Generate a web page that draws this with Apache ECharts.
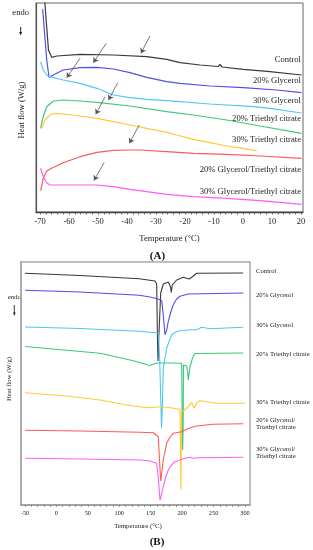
<!DOCTYPE html>
<html>
<head>
<meta charset="utf-8">
<script src="https://cdn.jsdelivr.net/npm/echarts@6/dist/echarts.min.js"></script>
<style>
html,body{margin:0;padding:0;background:#fff;}
#chart{width:313px;height:550px;}
</style>
</head>
<body>
<div id="chart"></div>
<script>
// ---------- DATA ----------
// Panel A: temperature (°C) vs heat flow (arbitrary offset units)
var namesA = ['Control', '20% Glycerol', '30% Glycerol', '20% Triethyl citrate', '30% Triethyl citrate', '20% Glycerol/Triethyl citrate', '30% Glycerol/Triethyl citrate'];
var controlA = [[-68.5,215],[-67.1,162],[-66.0,154.7],[-64.2,156],[-56.2,157.7],[-44.7,157],[-33.2,155.3],[-26.3,152.7],[-21.7,149.3],[-14.8,147],[-8.6,145.5],[-7.9,147.5],[-7.2,145],[0.1,142.7],[9.3,140.3],[20.2,137]];
var gly20A = [[-69.1,202.7],[-67.7,152],[-66.9,134.7],[-64.8,138],[-62.0,142],[-56.2,144.3],[-50.4,144.7],[-44.7,143],[-39.0,139.3],[-33.2,134.7],[-26.3,130.3],[-21.7,128.7],[-11.4,126],[0.1,124.3],[11.6,122],[20.2,119.3]];
var gly30A = [[-69.8,150.3],[-68.9,142],[-67.7,137],[-66.6,135.3],[-62.0,132],[-56.2,128.7],[-50.4,123.7],[-44.7,117],[-39.0,114.3],[-33.2,112.7],[-26.3,111.3],[-11.4,108],[3.6,105.3],[9.3,103.7],[20.2,99]];
var tec20A = [[-69.8,83.7],[-69.1,93.7],[-67.7,105.3],[-65.4,111],[-62.0,112],[-56.2,111],[-50.4,109.7],[-39.0,106],[-26.3,100.3],[-17.1,97],[-5.6,92],[5.9,86],[20.2,78.7]];
var tec30A = [[-69.4,83.7],[-68.3,92],[-66.6,97],[-64.8,98.7],[-62.0,98],[-56.2,96],[-50.4,93.7],[-44.7,90.3],[-39.0,87],[-33.2,83.7],[-26.3,79.7],[-22.9,77],[-17.1,72.7],[-11.4,69.3],[-5.6,66],[0.1,63.7],[4.7,61]];
var glyTec20A = [[-69.8,21.3],[-68.9,33.7],[-67.7,41],[-66.0,43.7],[-62.0,49.3],[-56.2,55.3],[-50.4,59.7],[-44.7,61.7],[-39.0,62],[-35.5,62],[-26.3,60.3],[-17.1,58.7],[-5.6,57.7],[5.9,56],[20.2,53.7]];
var glyTec30A = [[-69.8,43.7],[-68.9,35.3],[-67.7,29.3],[-66.6,27],[-62.0,27],[-56.2,27],[-50.4,27],[-44.7,25.3],[-39.0,22.7],[-33.2,20.3],[-26.3,17.7],[-17.1,15.3],[-5.6,13.7],[5.9,11.3],[20.2,7.7]];
// arrows in panel A: [T tail, value tail, T head, value head]
var arrowsA = [[-32.1,176,-35.2,158.7],[-47.2,168.7,-51.6,149.3],[-56.2,153.7,-60.8,134.3],[-43.2,129.3,-46.4,112],[-47.6,115,-50.8,97.7],[-35.8,87,-39.2,68.7],[-47.9,49.3,-51.4,31.5]];
var ticksA = [-70,-60,-50,-40,-30,-20,-10,0,10,20];

// Panel B
var namesB = ['Control', '20% Glycerol', '30% Glycerol', '20% Triethyl citrate', '30% Triethyl citrate', '20% Glycerol/\nTriethyl citrate', '30% Glycerol/\nTriethyl citrate'];
var controlB = [[-50,231.7],[37.5,229.5],[131.8,226.3],[156.8,224],[159.5,221],[160.8,165],[161.6,144],[162.7,165],[165.9,212],[170,221],[178,223],[181.5,218],[182.7,212.5],[184.3,220],[191.3,225],[201.8,227.7],[211.4,226],[215.2,227.7],[223.1,231.7],[297.3,232]];
var gly20B = [[-50,214.7],[37.5,213],[131.8,209.7],[148.9,208],[161.6,206],[167.5,204.5],[170,190],[172.7,170.3],[175.4,175],[178,183.7],[181.5,192],[185.9,200.3],[191.3,206],[196.6,208.7],[209.8,211],[297.3,212]];
var gly30B = [[-50,178],[37.5,176.5],[131.8,173.7],[162.1,172],[164.3,145],[166,105],[167.1,77],[168.4,95],[170,137],[175.4,157],[183.4,170.3],[191.3,173.5],[196.6,174.3],[215.2,175.3],[223.1,175.3],[231.1,177.7],[244.3,176.3],[297.3,177.7]];
var tec20B = [[-50,158.5],[69.3,151.7],[122.3,144.3],[148.9,139.5],[159.5,142],[180.7,142],[199.3,141.7],[200.1,85],[200.9,55],[201.7,85],[202.1,140],[207.2,139],[208.8,133],[209.8,125],[211.4,133],[212.5,138],[216.5,147],[220.4,151.5],[297.3,152]];
var tec30B = [[-50,112.3],[16.3,109],[69.3,105],[111.8,100],[143.6,97.3],[170,98.3],[196.6,95.7],[197.4,55],[198,15.5],[198.7,55],[199.3,93],[207.2,96.7],[215.2,102.3],[219.3,96.7],[223.1,102.3],[228.4,104.3],[254.9,101.7],[300,101.7]];
var glyTec20B = [[-50,74.7],[37.5,74],[132.9,72.7],[154.1,72.3],[162.1,68.3],[164,45],[165.9,24],[170,45],[175.4,61.7],[180.7,68],[185.9,71.7],[199.3,73.3],[207.2,75.7],[215.2,77.7],[223.1,79],[249.6,80.7],[297.3,81.3]];
var glyTec30B = [[-50,46.7],[37.5,46],[132.9,45],[148.9,44],[159.5,41.7],[162.4,25],[164.8,5],[167.1,10],[170,18.3],[173.5,27],[178,35],[183.1,40],[188.6,43.3],[204.5,46.7],[212.5,47.7],[215.2,48.3],[217.7,46.7],[228.4,47.3],[297.3,47.7]];
var ticksB = [-50,0,50,100,150,200,250,300];

var colors = ['#3a3a3a', '#5050e6', '#4fc8f2', '#3cc878', '#ffc935', '#ff5a5a', '#ff5cf4'];

// ---------- CHART ----------
var serif = '"Liberation Serif", "Times New Roman", serif';
var seriesA = [controlA, gly20A, gly30A, tec20A, tec30A, glyTec20A, glyTec30A];
var seriesB = [controlB, gly20B, gly30B, tec20B, tec30B, glyTec20B, glyTec30B];

var minorA = [];
for (var t = -70; t <= 20; t += 2) minorA.push(t);
var minorB = [];
for (var u = -50; u <= 300; u += 10) minorB.push(u);

var series = [];
seriesA.forEach(function (d, i) {
  var s = {
    type: 'line', xAxisIndex: 0, yAxisIndex: 0, data: d, showSymbol: false, symbol: 'none',
    lineStyle: { color: colors[i], width: 1.2 }, itemStyle: { color: colors[i] }, clip: true, silent: true, z: 3
  };
  if (i === 0) {
    s.markLine = {
      silent: true, symbol: ['none', 'arrow'], symbolSize: 5, label: { show: false },
      lineStyle: { color: '#555', width: 0.8, type: 'solid' }, emphasis: { disabled: true },
      data: arrowsA.map(function (a) { return [{ coord: [a[0], a[1]] }, { coord: [a[2], a[3]] }]; })
    };
  }
  series.push(s);
});
seriesB.forEach(function (d, i) {
  series.push({
    type: 'line', xAxisIndex: 1, yAxisIndex: 1, data: d, showSymbol: false, symbol: 'none',
    lineStyle: { color: colors[i], width: 1.1 }, itemStyle: { color: colors[i] }, clip: true, silent: true, z: 3
  });
});

var labelYA = [59.3, 80.7, 100.7, 118.3, 140, 169.3, 192];
var labelYB = [271.7, 295, 325.7, 354.3, 402, 424, 452.5];
var graphics = [];
namesA.forEach(function (n, i) {
  graphics.push({ type: 'text', x: 301, y: labelYA[i], silent: true,
    style: { text: n, textAlign: 'right', textVerticalAlign: 'middle', font: '8.6px ' + serif, fill: '#222' } });
});
namesB.forEach(function (n, i) {
  graphics.push({ type: 'text', x: 256, y: labelYB[i], silent: true,
    style: { text: n, textAlign: 'left', textVerticalAlign: 'middle', font: '6.7px ' + serif, lineHeight: 7, fill: '#222' } });
});
graphics.push(
  { type: 'text', x: 169.5, y: 239, style: { text: 'Temperature (°C)', textAlign: 'center', textVerticalAlign: 'middle', font: '8.6px ' + serif, fill: '#222' } },
  { type: 'text', x: 157.5, y: 256, style: { text: '(A)', textAlign: 'center', textVerticalAlign: 'middle', font: 'bold 11px ' + serif, fill: '#111' } },
  { type: 'text', x: 138, y: 526, style: { text: 'Temperature (°C)', textAlign: 'center', textVerticalAlign: 'middle', font: '6.8px ' + serif, fill: '#222' } },
  { type: 'text', x: 157, y: 542, style: { text: '(B)', textAlign: 'center', textVerticalAlign: 'middle', font: 'bold 11px ' + serif, fill: '#111' } },
  { type: 'text', x: 21.5, y: 110, rotation: Math.PI / 2, style: { text: 'Heat flow (W/g)', textAlign: 'center', textVerticalAlign: 'middle', font: '8.6px ' + serif, fill: '#222' } },
  { type: 'text', x: 9, y: 379, rotation: Math.PI / 2, style: { text: 'Heat flow (W/g)', textAlign: 'center', textVerticalAlign: 'middle', font: '6.7px ' + serif, fill: '#222' } },
  { type: 'text', x: 20.7, y: 12.5, style: { text: 'endo', textAlign: 'center', textVerticalAlign: 'middle', font: '8.6px ' + serif, fill: '#222' } },
  { type: 'line', shape: { x1: 20.7, y1: 27, x2: 20.7, y2: 33 }, style: { stroke: '#222', lineWidth: 1 } },
  { type: 'polygon', shape: { points: [[19.2, 32], [22.2, 32], [20.7, 35.5]] }, style: { fill: '#222' } },
  { type: 'text', x: 14.3, y: 297.7, style: { text: 'endo', textAlign: 'center', textVerticalAlign: 'middle', font: '6.7px ' + serif, fill: '#222' } },
  { type: 'line', shape: { x1: 14.3, y1: 305, x2: 14.3, y2: 313 }, style: { stroke: '#222', lineWidth: 0.9 } },
  { type: 'polygon', shape: { points: [[13, 312.5], [15.6, 312.5], [14.3, 316]] }, style: { fill: '#222' } }
);

var chart = echarts.init(document.getElementById('chart'), null, { renderer: 'canvas' });
chart.setOption({
  animation: false,
  backgroundColor: '#fff',
  grid: [
    { left: 36, top: 3, width: 267, height: 209, show: true, borderColor: '#666', borderWidth: 1, backgroundColor: 'transparent' },
    { left: 21, top: 262, width: 229, height: 243, show: true, borderColor: '#aaa', borderWidth: 1.5, backgroundColor: 'transparent' }
  ],
  xAxis: [
    { type: 'value', gridIndex: 0, min: -71.4, max: 20.7,
      axisLine: { show: true, onZero: false, lineStyle: { color: '#444', width: 1.3 } },
      axisTick: { show: true, customValues: minorA, length: 2.5, lineStyle: { color: '#444', width: 0.8 } },
      axisLabel: { show: true, customValues: ticksA, margin: 5, fontSize: 8.5, fontFamily: serif, color: '#222' },
      splitLine: { show: false } },
    { type: 'value', gridIndex: 1, min: -56.4, max: 308,
      axisLine: { show: true, onZero: false, lineStyle: { color: '#999', width: 1.6 } },
      axisTick: { show: true, customValues: minorB, length: 2, lineStyle: { color: '#777', width: 0.7 } },
      axisLabel: { show: true, customValues: ticksB, margin: 5, fontSize: 6.3, fontFamily: serif, color: '#222' },
      splitLine: { show: false } }
  ],
  yAxis: [
    { type: 'value', gridIndex: 0, min: 0, max: 209, axisLine: { show: true, onZero: false, lineStyle: { color: '#555', width: 1.2 } }, axisTick: { show: false }, axisLabel: { show: false }, splitLine: { show: false } },
    { type: 'value', gridIndex: 1, min: 0, max: 243, axisLine: { show: true, onZero: false, lineStyle: { color: '#aaa', width: 1.8 } }, axisTick: { show: false }, axisLabel: { show: false }, splitLine: { show: false } }
  ],
  series: series,
  graphic: graphics
});
</script>
</body>
</html>
